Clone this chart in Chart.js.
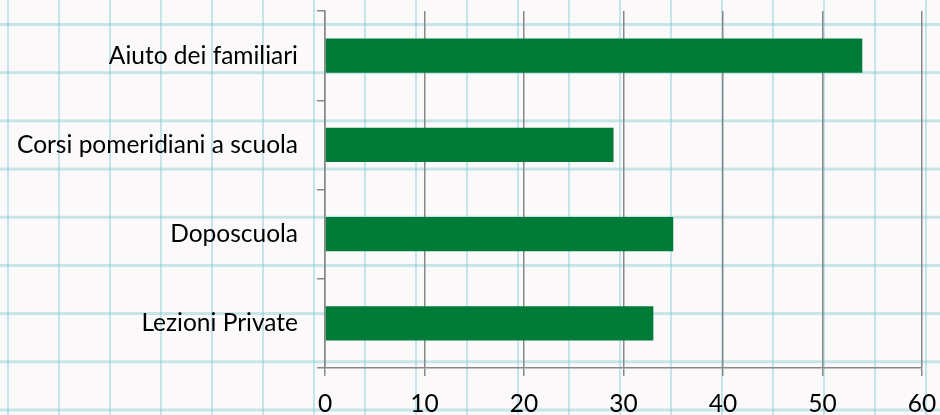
<!DOCTYPE html>
<html>
<head>
<meta charset="utf-8">
<script src="https://cdn.jsdelivr.net/npm/chart.js@4.4.1/dist/chart.umd.min.js"></script>
<style>
    html, body {
        margin: 0;
        padding: 0;
    }
    body {
        width: 940px;
        height: 415px;
        overflow: hidden;
        /* sfondo a quadretti, come un foglio di quaderno */
        background-color: #fcf9fa;
        background-image:
            linear-gradient(to right, rgba(120, 200, 210, 0.42) 0, rgba(120, 200, 210, 0.42) 2.5px, transparent 2.5px),
            linear-gradient(to bottom, rgba(120, 200, 210, 0.42) 0, rgba(120, 200, 210, 0.42) 2.5px, transparent 2.5px);
        background-size: 51px 48.2px;
        background-position: 7px 23px;
    }
    #wrap {
        position: relative;
        width: 940px;
        height: 415px;
    }
</style>
</head>
<body>
<div id="wrap"><canvas id="myChart"></canvas></div>
<script>
// Categorie (asse Y) e valori delle barre
const categories = ['Aiuto dei familiari', 'Corsi pomeridiani a scuola', 'Doposcuola', 'Lezioni Private'];
const values = [54, 29, 35, 33];

// Asse X: da 0 a 60, passo 10
const xMin = 0;
const xMax = 60;
const xStep = 10;

const axisGray = '#888888';
const textFont = { family: 'Lato', size: 24.5 };

const canvas = document.getElementById('myChart');

new Chart(canvas, {
    type: 'bar',
    data: {
        labels: categories,
        datasets: [{
            data: values,
            backgroundColor: '#007c38',
            borderWidth: 0,
            barPercentage: 0.5,
            categoryPercentage: 0.77
        }]
    },
    options: {
        indexAxis: 'y',
        animation: false,
        responsive: true,
        maintainAspectRatio: false,
        layout: {
            padding: { top: 11, right: 18, left: 0, bottom: 0 }
        },
        plugins: {
            legend: { display: false },
            tooltip: { enabled: false }
        },
        scales: {
            x: {
                min: xMin,
                max: xMax,
                ticks: {
                    stepSize: xStep,
                    color: '#000',
                    font: textFont,
                    padding: 13
                },
                grid: {
                    color: axisGray,
                    lineWidth: 1.5,
                    tickLength: 8,
                    drawOnChartArea: true
                },
                border: { color: axisGray, width: 1.5 },
                afterFit: scale => {
                    scale.height = 47;
                    scale.paddingLeft = 0;
                    scale.paddingRight = 0;
                }
            },
            y: {
                ticks: {
                    color: '#000',
                    font: textFont,
                    padding: 19
                },
                grid: {
                    color: axisGray,
                    lineWidth: 1.5,
                    tickLength: 8,
                    drawOnChartArea: false,
                    offset: true
                },
                border: { color: axisGray, width: 1.5 },
                afterFit: scale => {
                    scale.width = 325;
                    scale.paddingTop = 0;
                    scale.paddingBottom = 0;
                }
            }
        }
    }
});
</script>
</body>
</html>
